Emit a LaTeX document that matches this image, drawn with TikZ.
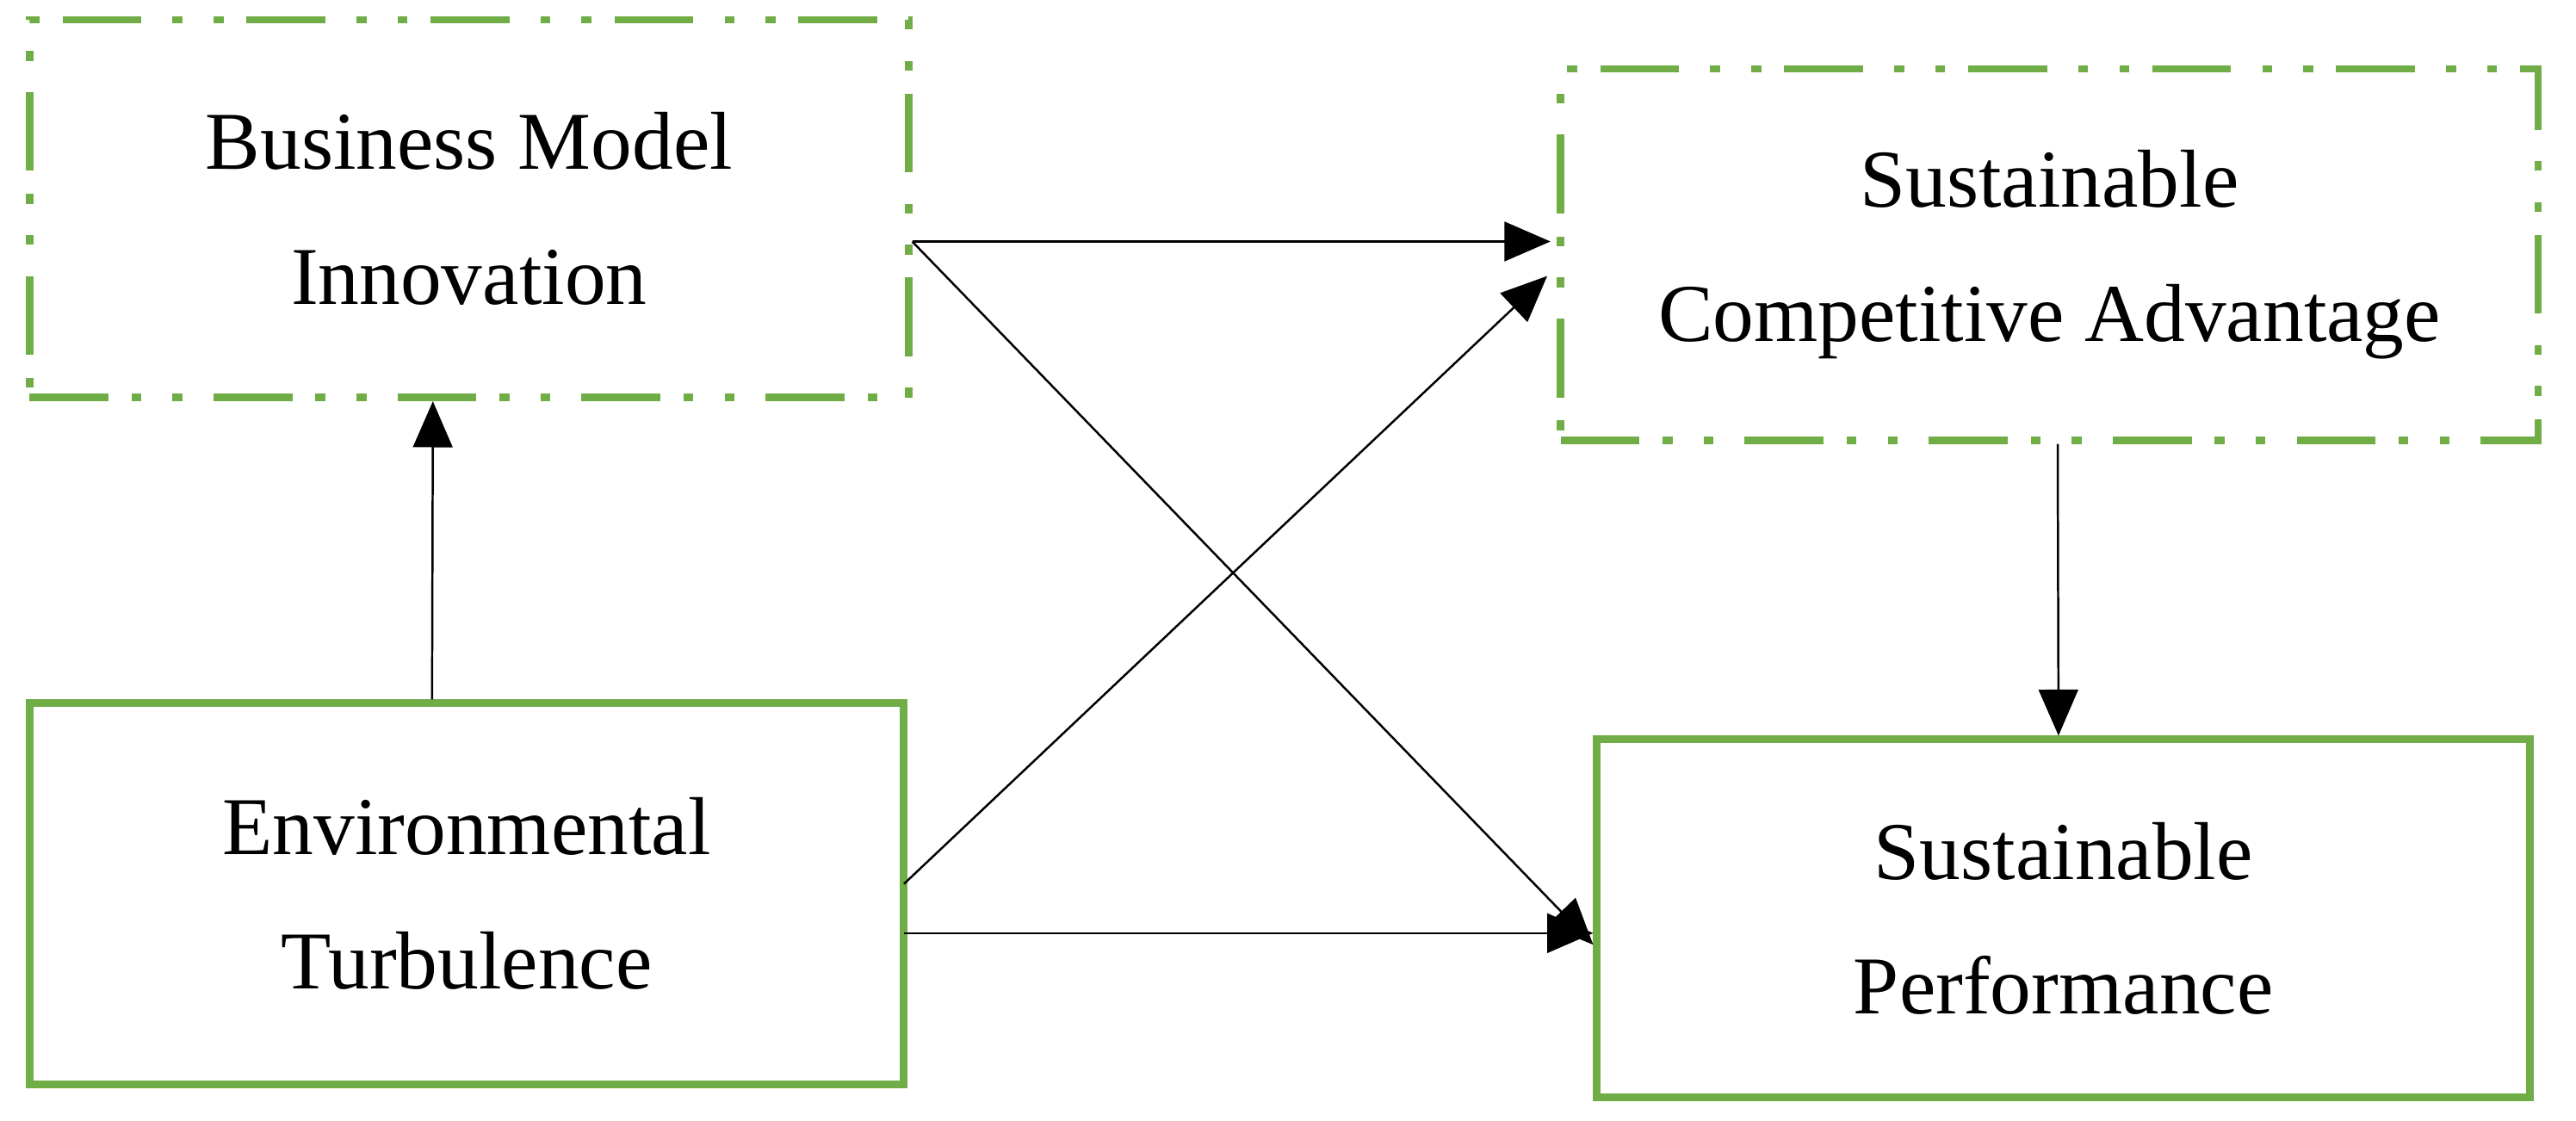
\documentclass[tikz,border=0pt]{standalone}
\usepackage{fontspec}
\setmainfont{Liberation Serif}
\usetikzlibrary{arrows.meta,calc}
\definecolor{grn}{HTML}{70AD47}
\begin{document}
\begin{tikzpicture}[x=1pt,y=1pt,
  box/.style={draw=grn,line width=4.5pt,align=center,inner sep=0pt,
    font=\fontsize{50}{82}\selectfont},
  dashbox/.style={box,dash pattern=on 48pt off 14pt on 6pt off 19pt on 6pt off 19pt},
  arr/.style={line width=1.3pt,-{Triangle[length=28pt,width=24pt]}}]
\useasboundingbox (0,0) rectangle (1568,-682);
\node[dashbox,minimum width=535,minimum height=230] (bmi) at (285.5,-127) {Business Model\\Innovation};
\node[dashbox,minimum width=595,minimum height=226] (sca) at (1247.5,-155) {Sustainable\\Competitive Advantage};
\node[box,minimum width=532,minimum height=232] (et) at (284,-544) {Environmental\\Turbulence};
\node[box,minimum width=568,minimum height=218] (sp) at (1256,-559) {Sustainable\\Performance};
\draw[arr] ([xshift=-21pt]et.north) -- ([xshift=-22pt]bmi.south);
\draw[arr] ([yshift=-20pt]bmi.east) -- ([xshift=-4pt,yshift=8pt]sca.west);
\draw[arr] ([yshift=-20pt]bmi.east) -- ([yshift=-16pt]sp.west);
\draw[arr] ([xshift=-2pt,yshift=6pt]et.east) -- ([xshift=-6pt,yshift=-13pt]sca.west);
\draw[arr] ([xshift=-2pt,yshift=-24pt]et.east) -- ([yshift=-9pt]sp.west);
\draw[arr] ([xshift=5pt]sca.south) -- ([xshift=-3pt]sp.north);
\end{tikzpicture}
\end{document}
